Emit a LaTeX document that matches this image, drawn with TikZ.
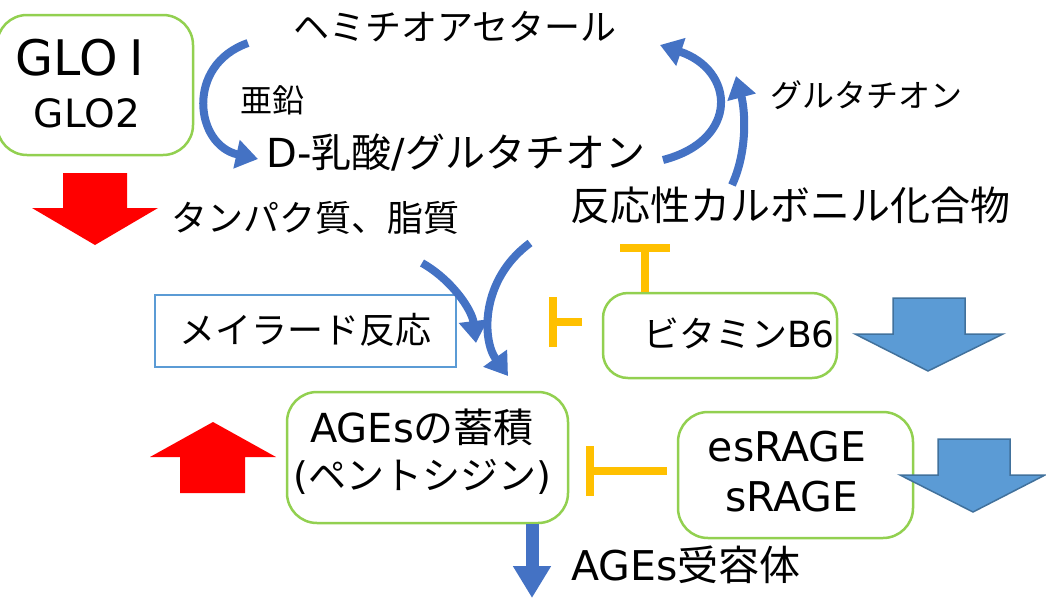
\documentclass[tikz,border=0pt]{standalone}
\usepackage{fontspec}
\setmainfont{Noto Sans CJK JP}
\newfontfamily\lat{DejaVu Sans}
\usetikzlibrary{arrows.meta}
\definecolor{grn}{HTML}{92D050}
\definecolor{bl}{HTML}{4472C4}
\definecolor{lb}{HTML}{5B9BD5}
\definecolor{lbd}{HTML}{41719C}
\definecolor{org}{HTML}{FFC000}
\definecolor{rd}{HTML}{FF0000}
\newcommand{\fs}[1]{\fontsize{#1pt}{#1pt}\selectfont}
\tikzset{
  txt/.style={inner sep=0pt, anchor=center, text=black},
  gbox/.style={draw=grn, line width=2.5pt, rounded corners=#1, shape=rectangle, inner sep=0pt},
  gbox/.default=30pt,
  bbox/.style={draw=lb, line width=2.5pt, shape=rectangle, inner sep=0pt},
  curv/.style={draw=bl, line width=8pt, -{Triangle[length=22pt,width=28pt]}},
  inh/.style={draw=org, line width=8pt, -{Bar[width=50pt]}},
  redblk/.style={fill=rd, draw=none},
  blublk/.style={fill=lb, draw=lbd, line width=1.5pt, line join=miter},
}
\begin{document}
\begin{tikzpicture}[x=1pt,y=-1pt]
\useasboundingbox (0,0) rectangle (1046,600);
\clip (0,0) rectangle (1046,600);

% boxes
\node[gbox, minimum width=196pt, minimum height=140pt] (glo) at (95,85) {};
\node[gbox, minimum width=281pt, minimum height=131pt] (ages) at (427.5,457.5) {};
\node[gbox=25pt, minimum width=234pt, minimum height=85pt] (b6) at (720,335.5) {};
\node[gbox, minimum width=235pt, minimum height=126pt] (esr) at (795.5,475) {};
\node[bbox, minimum width=301pt, minimum height=72pt] (mai) at (305.5,331) {};

% texts
\node[txt] (glo1) at (80,58) {\lat\fs{49}GLO\kern 12pt I};
\node[txt] (glo2) at (87,113) {\lat\fs{39}GLO2};
\node[txt] (hemi) at (455,27) {\fs{36}ヘミチオアセタール};
\node[txt] (zn) at (272,100) {\fs{32}亜鉛};
\node[txt] (dlac) at (456,153) {\fs{40}{\lat D-}乳酸{\lat /}グルタチオン};
\node[txt] (gsh) at (866,95) {\fs{32}グルタチオン};
\node[txt] (rcs) at (790,205) {\fs{40}反応性カルボニル化合物};
\node[txt] (prot) at (315,218) {\fs{36}タンパク質、脂質};
\node[txt] (maitx) at (305,330) {\fs{36}メイラード反応};
\node[txt] (b6tx) at (739,333) {\fs{36}ビタミン{\lat B6}};
\node[txt] (ag1) at (422,427) {\fs{40}{\lat AGEs}の蓄積};
\node[txt] (ag2) at (422,477) {\fs{38}{\lat (}ペントシジン{\lat )}};
\node[txt] (es1) at (787,447) {\lat\fs{41}esRAGE};
\node[txt] (es2) at (792,497) {\lat\fs{41}sRAGE};
\node[txt] (rec) at (686,565) {\fs{41}{\lat AGEs}受容体};

% block arrows
\fill[redblk] (63,173) -- (127,173) -- (127,208) -- (158,208) -- (95,245) -- (32,208) -- (63,208) -- cycle;
\fill[redblk] (180,493) -- (245,493) -- (245,457) -- (276,457) -- (213,422) -- (150,457) -- (180,457) -- cycle;
\filldraw[blublk] (893,298) -- (965,298) -- (965,334) -- (1003,334) -- (928,371) -- (855,334) -- (893,334) -- cycle;
\filldraw[blublk] (938,439) -- (1010,439) -- (1010,475) -- (1045,475) -- (973,512) -- (900,475) -- (938,475) -- cycle;

% curved arrows
\coordinate (a1) at (248,43);  \coordinate (a2) at (258,159);
\draw[curv] (a1) .. controls (185,65) and (195,145) .. (a2);
\coordinate (b1) at (663,160); \coordinate (b2) at (660,45);
\draw[curv] (b1) .. controls (740,140) and (735,70) .. (b2);
\coordinate (c1) at (732,185); \coordinate (c2) at (736,76);
\draw[curv] (c1) .. controls (748,150) and (745,110) .. (c2);
\coordinate (d1) at (422,263); \coordinate (d2) at (476,343);
\draw[curv] (d1) .. controls (452,280) and (472,310) .. (d2);
\coordinate (e1) at (530,243); \coordinate (e2) at (508,376);
\draw[curv] (e1) .. controls (480,280) and (482,340) .. (e2);

% straight arrow
\coordinate (f2) at (532,598);
\draw[draw=bl, line width=13pt, -{Triangle[length=32pt,width=36pt]}] (ages.south -| f2) -- (f2);

% inhibitions
\coordinate (i1e) at (645,244);
\draw[inh] (i1e |- b6.north) -- (i1e);
\coordinate (i2s) at (582,322); \coordinate (i2e) at (549,322);
\draw[inh] (i2s) -- (i2e);
\coordinate (i3s) at (667,471); \coordinate (i3e) at (586,471);
\draw[inh] (i3s) -- (i3e);
\end{tikzpicture}
\end{document}
